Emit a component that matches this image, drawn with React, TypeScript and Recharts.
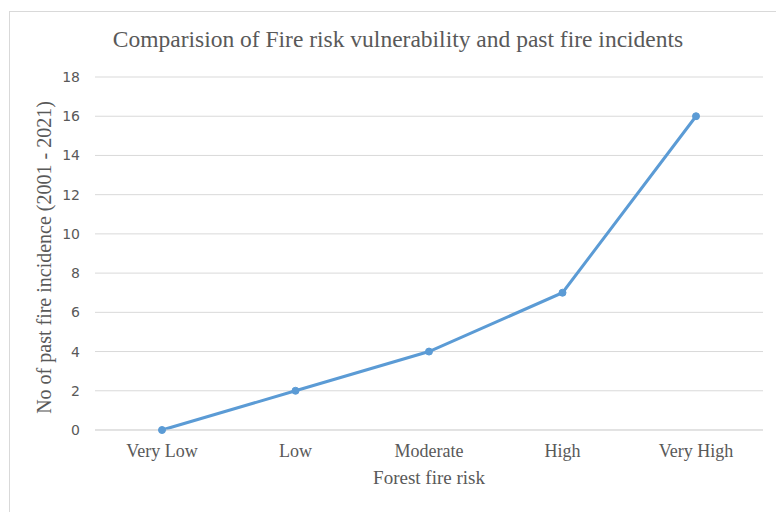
import { LineChart, Line, XAxis, YAxis, CartesianGrid } from "recharts";

const categories = ["Very Low", "Low", "Moderate", "High", "Very High"];
const incidents = [0, 2, 4, 7, 16];
const yTicks = [0, 2, 4, 6, 8, 10, 12, 14, 16, 18];

const data = categories.map((risk, i) => ({ risk, incidents: incidents[i] }));

const serif = '"Liberation Serif", "Times New Roman", serif';
const textColor = "#595959";

const App = () => {
  return (
    <div style={{ position: "absolute", left: 0, top: 0, width: 776, height: 512, overflow: "hidden", background: "#fff" }}>
      {/* chart frame, runs off the right and bottom edges like the original */}
      <div
        style={{
          position: "absolute",
          left: 9,
          top: 11,
          width: 800,
          height: 540,
          border: "1px solid #d9d9d9",
        }}
      />
      <div
        style={{
          position: "absolute",
          left: 0,
          top: 26,
          width: 796,
          textAlign: "center",
          fontFamily: serif,
          fontSize: 23.5,
          color: textColor,
        }}
      >
        Comparision of Fire risk vulnerability and past fire incidents
      </div>
      <div style={{ position: "absolute", left: 0, top: 0 }}>
        <LineChart width={776} height={512} data={data} margin={{ top: 77, right: 13, bottom: 22, left: 35 }}>
          <CartesianGrid vertical={false} stroke="#d9d9d9" />
          <XAxis
            dataKey="risk"
            height={60}
            padding={{ left: 67, right: 67 }}
            axisLine={{ stroke: "#d9d9d9" }}
            tickLine={false}
            tick={{ fill: textColor, fontFamily: serif, fontSize: 18 }}
            tickMargin={8}
            label={{ value: "Forest fire risk", position: "insideBottom", offset: 6, fill: textColor, fontFamily: serif, fontSize: 19 }}
          />
          <YAxis
            width={60}
            domain={[0, 18]}
            ticks={yTicks}
            axisLine={false}
            tickLine={false}
            tickMargin={9}
            tick={{ fill: textColor, fontFamily: '"DejaVu Sans", sans-serif', fontSize: 14 }}
            label={{
              value: "No of past fire incidence (2001 - 2021)",
              angle: -90,
              position: "insideLeft",
              offset: 9,
              dy: 4,
              style: { textAnchor: "middle" },
              fill: textColor,
              fontFamily: serif,
              fontSize: 20,
            }}
          />
          <Line
            type="linear"
            dataKey="incidents"
            stroke="#5B9BD5"
            strokeWidth={3}
            dot={{ r: 3.5, fill: "#5B9BD5", stroke: "#5B9BD5", strokeWidth: 1 }}
            isAnimationActive={false}
          />
        </LineChart>
      </div>
    </div>
  );
};

export default App;
